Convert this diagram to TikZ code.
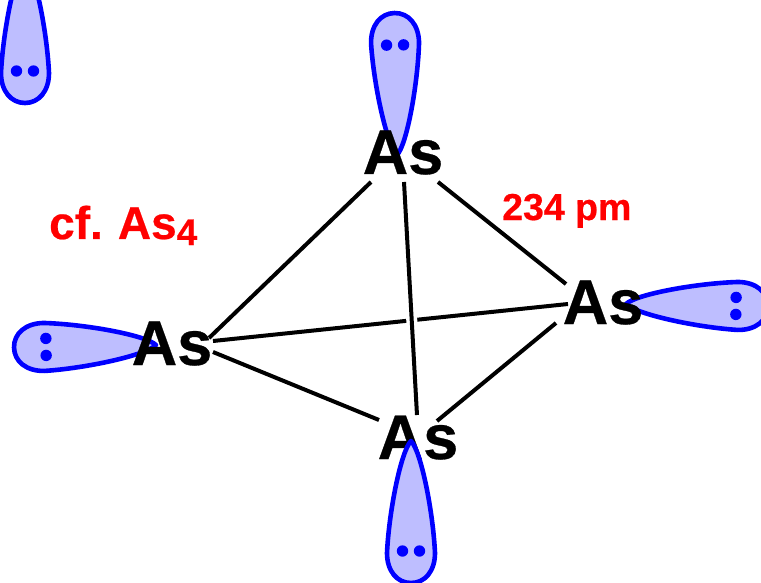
\documentclass[tikz,border=0pt]{standalone}
\usepackage{fontspec}
\setmainfont[BoldFeatures={FakeBold=0.5}]{Liberation Sans}
\definecolor{lobefill}{RGB}{190,190,255}
\tikzset{
  atom/.style={font=\fontsize{63}{63}\selectfont\bfseries,text=black,inner sep=0pt,text height=46pt,text depth=0pt},
  bond/.style={draw=black,line width=4pt},
  redlabel/.style={font=\bfseries,text=red,inner sep=0pt,anchor=base west},
  lobe/.pic={
    \path[draw=blue,fill=lobefill,line width=4.6pt,line join=round]
      (0,0) .. controls (10,-10) and (70,-22) .. (112,-24)
      .. controls (130,-24) and (142,-14) .. (142,0)
      .. controls (142,14) and (130,24) .. (112,24)
      .. controls (70,22) and (10,10) .. (0,0) -- cycle;
    \fill[blue] (110,-8.5) circle (5.7) (110,8.5) circle (5.7);
  }
}
\begin{document}
\begin{tikzpicture}[x=1pt,y=-1pt]
\clip (0,0) rectangle (761,583);
\fill[white] (0,0) rectangle (761,583);
\pic[rotate=-90] at (25,-39) {lobe};
\pic[rotate=91] at (397,155) {lobe};
\pic[rotate=181] at (156,345) {lobe};
\pic[rotate=-1] at (626,304) {lobe};
\node[atom] (B) at (418,436) {As};
\pic[rotate=-90] at (411,441) {lobe};
\node[atom] (T) at (403,151) {As};
\node[atom] (L) at (172,342) {As};
\node[atom] (R) at (603,301) {As};
\draw[bond] ([shift={(41,-1)}]L.center) -- ([shift={(-35,3)}]R.center);
\draw[white,line width=11pt] ([shift={(6.5,129)}]T.center) -- ([shift={(-4,-76)}]B.center);
\draw[bond] ([shift={(1,31)}]T.center) -- ([shift={(-1,-21)}]B.center);
\draw[bond] ([shift={(-32,31)}]T.center) -- ([shift={(37,-4)}]L.center);
\draw[bond] ([shift={(35,31)}]T.center) -- ([shift={(-37,-17)}]R.center);
\draw[bond] ([shift={(41,10)}]L.center) -- ([shift={(-39,-16)}]B.center);
\draw[bond] ([shift={(-47,22)}]R.center) -- ([shift={(19,-15)}]B.center);
\node[redlabel,font=\fontsize{37.5}{37}\selectfont\bfseries] (D) at (502,220) {234 pm};
\node[redlabel,font=\fontsize{46}{46}\selectfont\bfseries] (C) at (49,239) {cf.\hspace{-2pt} As\raisebox{-6pt}{\fontsize{37}{37}\selectfont 4}};
\end{tikzpicture}
\end{document}
